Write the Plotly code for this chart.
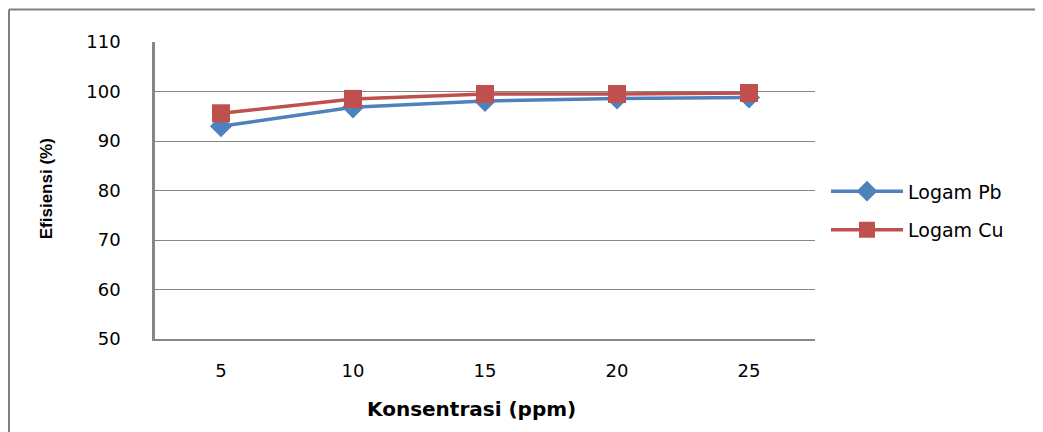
import plotly.graph_objects as go

konsentrasi = ["5", "10", "15", "20", "25"]
logam_pb = [93.0, 96.8, 98.1, 98.6, 98.8]
logam_cu = [95.6, 98.5, 99.5, 99.5, 99.7]
y_ticks = [50, 60, 70, 80, 90, 100, 110]

# page has an 8px body margin, so the figure is sized to fit inside it
OFF = 8
W, H = 1043 - OFF, 432 - OFF
PL, PR, PT, PB = 155, 815, 41.5, 339  # plot area edges in page pixels
L, T = PL - OFF, PT - OFF
R = W - (PR - OFF)
B = H - (PB - OFF)
pw = PR - PL
ph = PB - PT

def px_x(x):
    return (x - PL) / pw

def px_y(y):
    return (PB - y) / ph

fig = go.Figure()
fig.add_trace(go.Scatter(
    x=konsentrasi, y=logam_pb, name="Logam Pb", mode="lines+markers",
    line=dict(color="#4F81BD", width=3.5),
    marker=dict(symbol="diamond", size=17, color="#4F81BD"),
    legendgroup="pb",
))
fig.add_trace(go.Scatter(
    x=konsentrasi, y=logam_cu, name="Logam Cu", mode="lines+markers",
    line=dict(color="#C0504D", width=3.5),
    marker=dict(symbol="square", size=18, color="#C0504D"),
    legendgroup="cu",
))

tick_font = dict(family="DejaVu Sans", size=18, color="#000000")

fig.update_layout(
    width=W, height=H,
    margin=dict(l=L, r=R, t=T, b=B, autoexpand=False),
    paper_bgcolor="white", plot_bgcolor="white",
    showlegend=True,
    legend=dict(
        x=px_x(826), y=px_y(172), xanchor="left", yanchor="top",
        font=dict(family="DejaVu Sans", size=19, color="#000000"),
        tracegroupgap=11, itemwidth=72, bgcolor="rgba(0,0,0,0)",
    ),
    xaxis=dict(
        type="category", range=[-0.5, 4.5],
        showline=True, linecolor="#868686", linewidth=1.5,
        showgrid=False, ticks="", tickfont=tick_font,
        ticklabelstandoff=15, zeroline=False,
    ),
    yaxis=dict(
        range=[50, 110], tickvals=y_ticks, ticktext=[str(v) for v in y_ticks],
        showline=True, linecolor="#868686", linewidth=2.5,
        showgrid=True, gridcolor="#868686", gridwidth=1,
        ticks="", tickfont=tick_font, ticklabelstandoff=28, zeroline=False,
    ),
    annotations=[
        dict(text="<b>Konsentrasi (ppm)</b>", xref="paper", yref="paper",
             x=px_x(471), y=px_y(409), xanchor="center", yanchor="middle",
             showarrow=False, font=dict(family="DejaVu Sans", size=20, color="#000000")),
        dict(text="<b>Efisiensi (%)</b>", xref="paper", yref="paper",
             x=px_x(46), y=px_y(189), xanchor="center", yanchor="middle", textangle=-90,
             showarrow=False, font=dict(family="Liberation Sans", size=17, color="#000000")),
    ],
    shapes=[
        dict(type="line", xref="paper", yref="paper",
             x0=px_x(9), x1=px_x(9), y0=px_y(9), y1=px_y(440),
             line=dict(color="#808080", width=2)),
        dict(type="line", xref="paper", yref="paper",
             x0=px_x(9), x1=px_x(1050), y0=px_y(9), y1=px_y(9),
             line=dict(color="#808080", width=2)),
    ],
)

fig.write_html("out.html")
